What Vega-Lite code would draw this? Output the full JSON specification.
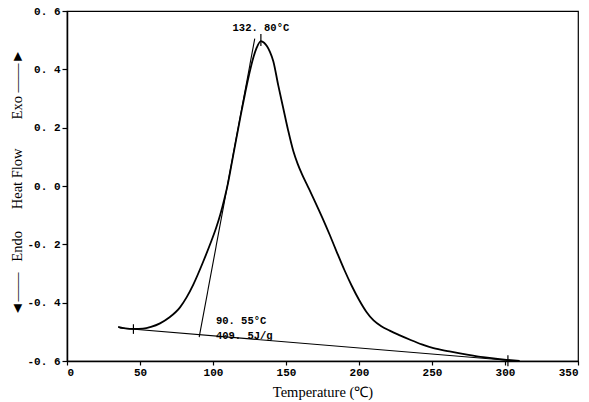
{
  "$schema": "https://vega.github.io/schema/vega-lite/v6.json",
  "autosize": "none",
  "width": 511,
  "height": 350,
  "padding": {"left": 67, "top": 11, "right": 11, "bottom": 41},
  "background": "white",
  "config": {
    "view": {"stroke": "black", "strokeWidth": 1.2},
    "axis": {
      "domainColor": "black",
      "domainWidth": 1.5,
      "tickColor": "black",
      "tickWidth": 1.2,
      "labelFont": "Liberation Mono",
      "labelFontWeight": "bold",
      "labelFontSize": 11,
      "labelColor": "black",
      "titleFont": "Liberation Serif",
      "titleFontWeight": "normal",
      "titleFontSize": 14.5,
      "titleColor": "black",
      "grid": false
    }
  },
  "datasets": {
    "curve": [
      {"t": 35, "hf": -0.483}, {"t": 40, "hf": -0.488}, {"t": 46, "hf": -0.49},
      {"t": 52, "hf": -0.489}, {"t": 57.5, "hf": -0.483}, {"t": 63.7, "hf": -0.471},
      {"t": 70, "hf": -0.451}, {"t": 77.4, "hf": -0.416}, {"t": 82, "hf": -0.381},
      {"t": 86.5, "hf": -0.338}, {"t": 93.4, "hf": -0.258}, {"t": 99, "hf": -0.187},
      {"t": 102, "hf": -0.146}, {"t": 105, "hf": -0.098}, {"t": 108, "hf": -0.04},
      {"t": 110, "hf": 0.003}, {"t": 113, "hf": 0.083}, {"t": 116, "hf": 0.163},
      {"t": 119, "hf": 0.243}, {"t": 122, "hf": 0.318}, {"t": 125, "hf": 0.388},
      {"t": 127.5, "hf": 0.438}, {"t": 130, "hf": 0.475}, {"t": 132.8, "hf": 0.497},
      {"t": 135, "hf": 0.491}, {"t": 137, "hf": 0.479}, {"t": 139, "hf": 0.46},
      {"t": 141.3, "hf": 0.428}, {"t": 144.7, "hf": 0.345}, {"t": 148.2, "hf": 0.265},
      {"t": 151.5, "hf": 0.19}, {"t": 155, "hf": 0.12}, {"t": 158, "hf": 0.076},
      {"t": 161, "hf": 0.04}, {"t": 165, "hf": -0.002}, {"t": 170, "hf": -0.055},
      {"t": 175, "hf": -0.11}, {"t": 180, "hf": -0.168}, {"t": 185, "hf": -0.229},
      {"t": 190, "hf": -0.288}, {"t": 195, "hf": -0.342}, {"t": 200, "hf": -0.39},
      {"t": 205, "hf": -0.431}, {"t": 210, "hf": -0.461}, {"t": 215, "hf": -0.48},
      {"t": 221, "hf": -0.496}, {"t": 228, "hf": -0.512}, {"t": 235, "hf": -0.527},
      {"t": 243, "hf": -0.543}, {"t": 251, "hf": -0.556}, {"t": 262, "hf": -0.567},
      {"t": 274, "hf": -0.578}, {"t": 285, "hf": -0.587}, {"t": 295, "hf": -0.593},
      {"t": 301, "hf": -0.596}, {"t": 310, "hf": -0.6}
    ],
    "lines": [
      {"name": "baseline", "t": 36, "hf": -0.487, "t2": 310, "hf2": -0.601},
      {"name": "onset tangent", "t": 90.55, "hf": -0.518, "t2": 128.6, "hf2": 0.505}
    ],
    "marks": [
      {"t": 45.5, "lo": -0.507, "hi": -0.474},
      {"t": 302, "lo": -0.618, "hi": -0.58},
      {"t": 132.8, "lo": 0.48, "hi": 0.521}
    ],
    "peakNote": [
      {"t": 132.8, "hf": 0.543, "text": "132. 80°C"}
    ],
    "onsetNotes": [
      {"t": 102, "hf": -0.463, "text": "90. 55°C"},
      {"t": 102, "hf": -0.514, "text": "409. 5J/g"}
    ]
  },
  "layer": [
    {
      "data": {"name": "curve"},
      "mark": {"type": "line", "color": "black", "strokeWidth": 1.8, "interpolate": "monotone", "clip": true},
      "encoding": {
        "x": {
          "field": "t", "type": "quantitative",
          "scale": {"domain": [0, 350], "nice": false, "zero": false},
          "axis": {
            "title": "Temperature (℃)",
            "values": [0, 25, 50, 75, 100, 125, 150, 175, 200, 225, 250, 275, 300, 325, 350],
            "labelExpr": "datum.value % 50 == 0 ? format(datum.value, 'd') : ''",
            "tickSize": 4,
            "labelPadding": 1,
            "titleY": 24,
            "titleBaseline": "top"
          }
        },
        "y": {
          "field": "hf", "type": "quantitative",
          "scale": {"domain": [-0.6, 0.6], "nice": false, "zero": false},
          "axis": {
            "title": "◄——\u00a0\u00a0\u00a0Endo\u00a0\u00a0\u00a0\u00a0\u00a0\u00a0Heat Flow\u00a0\u00a0\u00a0\u00a0\u00a0\u00a0\u00a0\u00a0Exo\u00a0——►",
            "values": [-0.6, -0.5, -0.4, -0.3, -0.2, -0.1, 0, 0.1, 0.2, 0.3, 0.4, 0.5, 0.6],
            "labelExpr": "abs(round(datum.value * 10)) % 2 == 0 ? replace(replace(format(datum.value, '.1f'), '.', '. '), '−', '-') : ''",
            "tickSize": 5,
            "labelPadding": 2,
            "titleX": -43,
            "titleY": 171,
            "titleAlign": "center",
            "titleBaseline": "bottom"
          }
        }
      }
    },
    {
      "data": {"name": "lines"},
      "mark": {"type": "rule", "color": "black", "strokeWidth": 1.1},
      "encoding": {
        "x": {"field": "t", "type": "quantitative"},
        "y": {"field": "hf", "type": "quantitative"},
        "x2": {"field": "t2"},
        "y2": {"field": "hf2"}
      }
    },
    {
      "data": {"name": "marks"},
      "mark": {"type": "rule", "color": "black", "strokeWidth": 1.2, "clip": false},
      "encoding": {
        "x": {"field": "t", "type": "quantitative"},
        "y": {"field": "lo", "type": "quantitative"},
        "y2": {"field": "hi"}
      }
    },
    {
      "data": {"name": "peakNote"},
      "mark": {"type": "text", "font": "Liberation Mono", "fontWeight": "bold", "fontSize": 10.5, "color": "black", "baseline": "middle", "align": "center"},
      "encoding": {
        "x": {"field": "t", "type": "quantitative"},
        "y": {"field": "hf", "type": "quantitative"},
        "text": {"field": "text"}
      }
    },
    {
      "data": {"name": "onsetNotes"},
      "mark": {"type": "text", "font": "Liberation Mono", "fontWeight": "bold", "fontSize": 10.5, "color": "black", "baseline": "middle", "align": "left"},
      "encoding": {
        "x": {"field": "t", "type": "quantitative"},
        "y": {"field": "hf", "type": "quantitative"},
        "text": {"field": "text"}
      }
    }
  ]
}
